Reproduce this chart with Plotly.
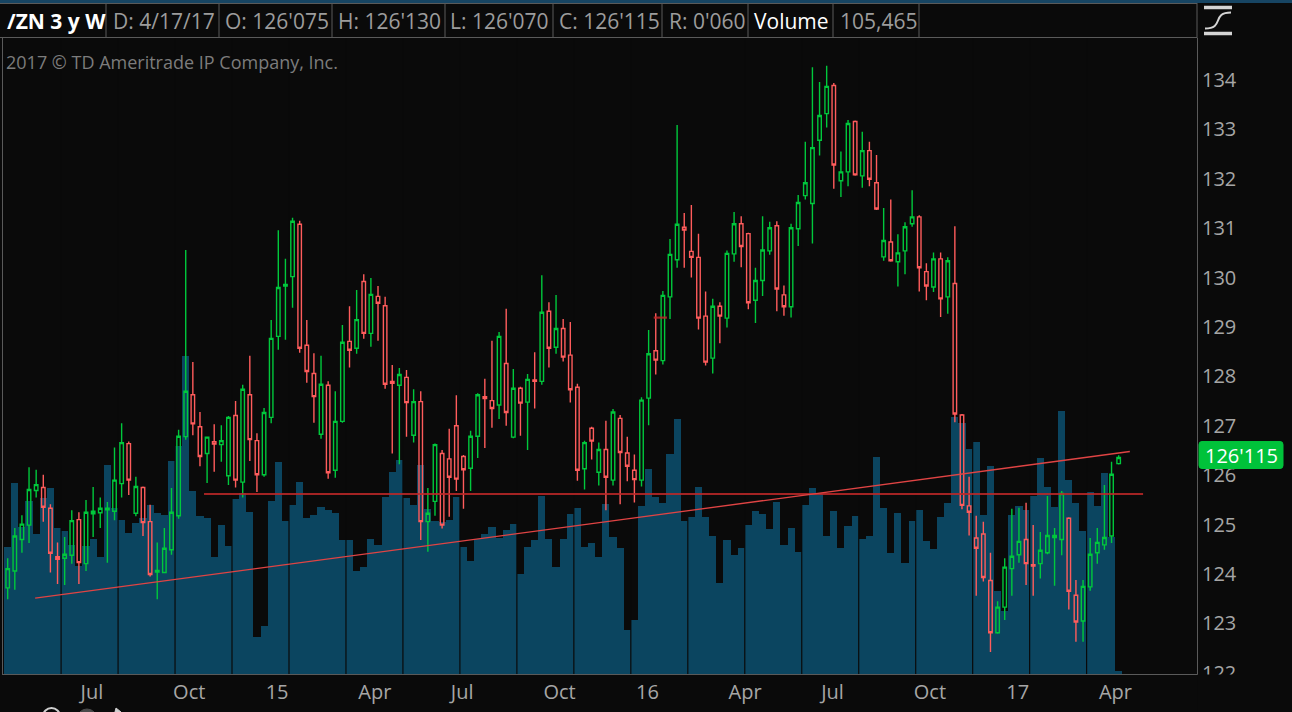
import pandas as pd
import plotly.graph_objects as go

# /ZN weekly bars, 3 years, from 2014-04-21 to 2017-04-17
start_week = "2014-04-21"

open_px = [
    123.72, 124.06, 124.70, 124.99, 125.69, 125.75, 125.33, 124.35, 124.32, 124.38,
    125.10, 124.21, 125.22, 125.24, 125.30, 125.27, 125.83, 126.64, 125.23, 125.75,
    125.06, 124.04, 124.03, 124.49, 125.18, 126.78, 127.63, 126.98, 126.44, 126.68,
    126.62, 125.99, 127.21, 125.86, 127.63, 126.70, 126.01, 127.17, 128.81, 129.83,
    130.02, 131.08, 128.63, 128.06, 126.83, 127.82, 126.10, 127.09, 128.71, 128.57,
    129.92, 128.87, 129.62, 129.43, 127.90, 127.82, 127.98, 126.81, 127.49, 125.06,
    125.47, 126.44, 126.33, 127.00, 126.38, 126.14, 126.79, 127.59, 127.51, 127.42,
    128.26, 126.77, 127.76, 127.48, 127.93, 127.90, 129.32, 128.59, 128.97, 128.43,
    127.78, 126.13, 126.95, 126.06, 126.52, 125.90, 127.15, 126.45, 126.10, 125.90,
    127.56, 128.52, 128.32, 129.61, 130.36, 131.02, 130.53, 130.41, 129.22, 128.37,
    129.42, 129.18, 130.48, 131.09, 130.89, 129.54, 129.94, 130.54, 131.05, 129.65,
    129.41, 130.99, 131.66, 131.50, 132.78, 133.32, 133.89, 131.96, 132.14, 133.16,
    132.06, 132.57, 131.92, 130.42, 130.72, 130.32, 130.54, 131.09, 131.23, 130.12,
    129.81, 130.38, 129.61, 129.88, 127.22, 125.38, 124.73, 124.81, 123.87, 122.81,
    123.33, 124.11, 124.39, 124.70, 124.19, 124.21, 124.43, 124.74, 124.70, 125.13,
    123.57, 123.05, 123.74, 124.43, 124.59, 124.77, 126.234,
]
high_px = [
    124.32, 124.93, 125.19, 126.16, 126.11, 126.01, 125.41, 124.64, 124.75, 125.29,
    125.25, 125.50, 125.76, 125.55, 125.46, 126.56, 127.05, 126.68, 125.97, 125.77,
    125.40, 124.64, 124.93, 125.74, 126.92, 130.56, 128.29, 127.28, 126.77, 127.03,
    127.01, 127.20, 127.50, 127.83, 128.42, 126.85, 127.36, 129.14, 130.96, 130.38,
    131.21, 131.15, 129.14, 128.47, 128.42, 127.90, 127.70, 129.04, 129.42, 129.75,
    130.07, 129.99, 129.83, 129.61, 128.23, 128.17, 128.13, 127.74, 127.70, 125.74,
    126.64, 126.51, 126.94, 127.62, 126.41, 126.90, 127.66, 127.95, 128.72, 128.90,
    129.37, 128.15, 127.79, 128.05, 128.49, 130.05, 129.50, 129.65, 129.16, 129.10,
    127.85, 126.70, 126.98, 126.66, 127.10, 127.34, 127.22, 126.78, 126.42, 127.58,
    128.94, 129.28, 129.73, 130.78, 133.09, 131.31, 131.47, 130.89, 129.72, 129.57,
    129.50, 130.55, 131.33, 131.24, 130.91, 130.20, 131.24, 131.13, 131.14, 129.84,
    131.09, 131.67, 132.75, 134.26, 133.96, 134.29, 133.94, 132.55, 133.19, 133.18,
    132.95, 132.75, 132.48, 131.41, 131.58, 130.88, 131.12, 131.77, 131.26, 130.29,
    130.51, 130.51, 130.41, 131.04, 127.24, 125.97, 125.18, 125.06, 124.43, 123.45,
    124.32, 125.32, 125.34, 125.44, 124.99, 124.85, 125.58, 124.93, 125.68, 125.15,
    123.88, 123.88, 124.73, 124.93, 125.80, 126.27, 126.406,
]
low_px = [
    123.49, 123.68, 124.43, 124.63, 125.55, 125.06, 124.03, 123.80, 123.78, 124.21,
    123.80, 124.06, 124.75, 124.93, 124.23, 125.09, 125.55, 125.60, 125.17, 124.77,
    123.95, 123.49, 124.02, 124.39, 125.12, 126.72, 126.81, 126.18, 125.84, 126.07,
    126.27, 125.80, 125.75, 125.55, 126.29, 125.66, 125.97, 127.05, 128.54, 128.74,
    129.39, 128.48, 127.87, 127.06, 126.74, 125.93, 125.95, 127.06, 128.18, 128.46,
    128.76, 128.60, 128.72, 127.75, 126.44, 126.22, 126.78, 126.66, 124.69, 124.45,
    125.18, 124.92, 125.16, 125.68, 125.32, 125.68, 126.35, 126.55, 126.96, 127.14,
    127.00, 126.75, 126.80, 126.51, 127.35, 127.83, 128.18, 128.46, 128.30, 127.47,
    125.89, 125.71, 126.32, 125.79, 125.29, 125.79, 125.41, 125.88, 125.45, 125.77,
    127.01, 128.04, 128.24, 129.16, 130.20, 130.20, 130.00, 128.95, 128.22, 128.06,
    128.67, 128.99, 130.32, 130.21, 129.36, 129.08, 129.63, 130.46, 129.32, 129.23,
    129.19, 130.64, 131.58, 130.69, 132.47, 133.04, 131.80, 131.63, 131.85, 132.06,
    131.82, 131.85, 131.37, 130.34, 130.32, 129.82, 130.07, 131.03, 129.72, 129.54,
    129.71, 129.20, 129.27, 127.07, 125.31, 124.78, 123.56, 123.85, 122.42, 122.79,
    123.07, 123.56, 124.23, 123.78, 123.56, 123.91, 124.40, 123.76, 124.38, 123.28,
    122.63, 122.63, 123.66, 124.21, 124.49, 124.63, 126.219,
]
close_px = [
    124.11, 124.77, 125.01, 125.71, 125.81, 125.35, 124.42, 124.30, 124.40, 125.08,
    124.23, 125.25, 125.27, 125.33, 125.33, 125.90, 126.66, 125.90, 125.77, 125.04,
    123.99, 124.07, 124.52, 125.25, 126.79, 127.70, 127.04, 126.38, 126.77, 126.63,
    126.70, 127.17, 125.90, 127.74, 126.72, 126.01, 127.27, 128.77, 129.80, 129.86,
    131.14, 128.57, 128.10, 127.59, 127.84, 126.05, 127.09, 128.69, 128.53, 129.15,
    128.87, 129.66, 129.48, 127.84, 127.86, 128.04, 127.47, 127.49, 125.06, 125.23,
    126.62, 124.99, 125.96, 125.92, 126.11, 126.79, 127.63, 127.55, 127.35, 128.81,
    127.27, 127.76, 127.46, 127.94, 127.90, 129.30, 128.57, 128.97, 128.39, 127.73,
    126.10, 126.66, 126.69, 126.52, 125.96, 127.28, 126.46, 126.18, 125.91, 127.52,
    128.46, 128.33, 129.64, 130.47, 131.08, 130.96, 130.41, 129.18, 128.29, 129.42,
    129.22, 130.49, 131.09, 130.63, 129.49, 129.94, 130.56, 131.01, 129.77, 129.41,
    131.01, 131.52, 131.92, 132.63, 133.28, 133.87, 132.28, 132.14, 133.12, 132.08,
    132.57, 131.99, 131.39, 130.75, 130.34, 130.50, 131.03, 131.23, 130.20, 129.83,
    130.38, 129.57, 130.34, 127.24, 125.39, 125.25, 124.52, 123.93, 122.81, 123.33,
    124.14, 124.36, 124.66, 124.21, 124.16, 124.48, 124.78, 124.78, 125.63, 123.65,
    123.03, 123.75, 124.40, 124.64, 124.74, 126.02, 126.359,
]
# weekly volume, thousands of contracts
volume_k = [
    5070, 7640, 5880, 6920, 5600, 7030, 7440, 5840, 5720, 5150,
    4320, 5110, 5390, 4680, 8360, 6640, 6150, 5640, 6030, 6230,
    6760, 6440, 6360, 8520, 9110, 12720, 7320, 6310, 6230, 4680,
    5960, 5110, 6990, 7230, 6480, 1470, 1920, 6920, 8480, 6110,
    6760, 7680, 6230, 6360, 6680, 6560, 6440, 5350, 5350, 4110,
    4270, 5390, 5150, 7070, 8070, 8560, 7030, 6760, 8360, 6600,
    6110, 6080, 6150, 7070, 5070, 4520, 5390, 5600, 5880, 5440,
    5760, 6000, 4000, 5070, 5350, 7140, 5390, 4270, 5390, 6400,
    6640, 5080, 5240, 4690, 6810, 5490, 5040, 1760, 2160, 6720,
    8200, 7090, 6850, 8800, 10210, 6120, 6290, 7490, 6290, 5520,
    3640, 5360, 4780, 5040, 5980, 6540, 6410, 5800, 6900, 5170,
    5850, 4890, 6770, 7450, 7200, 5540, 6540, 5040, 5930, 6330,
    5410, 5540, 8700, 6660, 4860, 6460, 4440, 6140, 6560, 5330,
    5010, 6300, 6850, 10300, 10050, 9020, 9290, 6380, 8340, 3340,
    2540, 6380, 6720, 6560, 7120, 8640, 7480, 6680, 10520, 7760,
    6840, 5720, 7280, 6720, 8040, 5480, 105.465,
]

tick_dates = ["2014-07-07", "2014-10-06", "2015-01-05", "2015-04-06", "2015-07-06", "2015-10-05",
              "2016-01-04", "2016-04-04", "2016-07-04", "2016-10-03", "2017-01-02", "2017-04-03"]
tick_text = ["Jul", "Oct", "15", "Apr", "Jul", "Oct", "16", "Apr", "Jul", "Oct", "17", "Apr"]
price_ticks = list(range(122, 135))

# drawings on the chart
trend_x = ["2014-05-18", "2017-04-28"]
trend_y = [123.51, 126.48]
level_x = ["2014-10-31", "2017-05-11"]
level_y = [125.62, 125.62]
mark_x = ["2016-01-16", "2016-01-29"]
mark_y = [129.19, 129.19]

header = [("/ZN 3 y W", 5), ("D: 4/17/17", 111), ("O: 126'075", 223), ("H: 126'130", 336),
          ("L: 126'070", 448), ("C: 126'115", 557), ("R: 0'060", 667), ("Volume", 752), ("105,465", 838)]
header_seps = [106, 219, 332, 445, 553, 662, 748, 833, 919]
last_label = "126'115"

BG = "#0a0a0a"
GREEN = "#00c83c"
RED = "#ff5c5c"
VOL = "#0b4560"
FRAME = "#5a5a5a"
TXT = "#a6a6a6"

W, H = 1292, 712
ML, MR, MT, MB = 3, 95, 38, 38
PW, PH = W - ML - MR, H - MT - MB


def px(x):
    return (x - ML) / PW


def py(y):
    return (H - MB - y) / PH


weeks = pd.date_range(start_week, periods=len(close_px), freq="7D")
vol_top = PH * 40  # 40k contracts per pixel
price_lo, price_hi = 121.976, 134.85

fig = go.Figure()

fig.add_trace(go.Bar(
    x=weeks, y=volume_k, marker=dict(color=VOL, line=dict(width=0)),
    yaxis="y", hoverinfo="skip",
))

# dark separators every 8 bars, visible over the volume columns
gx, gy = [], []
k = 7.5
while k < len(weeks):
    t = weeks[0] + pd.Timedelta(days=7 * k)
    gx += [t, t, None]
    gy += [0, vol_top, None]
    k += 8
fig.add_trace(go.Scatter(x=gx, y=gy, mode="lines", line=dict(color=BG, width=1.2),
                         yaxis="y", hoverinfo="skip"))

fig.add_trace(go.Candlestick(
    x=weeks, open=open_px, high=high_px, low=low_px, close=close_px,
    increasing=dict(line=dict(color=GREEN, width=1.4), fillcolor="rgba(0,0,0,0)"),
    decreasing=dict(line=dict(color=RED, width=1.4), fillcolor="rgba(0,0,0,0)"),
    whiskerwidth=0, yaxis="y2",
))

fig.add_trace(go.Scatter(x=level_x, y=level_y, mode="lines", yaxis="y2",
                         line=dict(color="rgba(190,40,40,0.85)", width=2.2)))
fig.add_trace(go.Scatter(x=mark_x, y=mark_y, mode="lines", yaxis="y2",
                         line=dict(color="rgba(190,40,40,0.85)", width=2.2)))
fig.add_trace(go.Scatter(x=trend_x, y=trend_y, mode="lines", yaxis="y2",
                         line=dict(color="#e04444", width=1.3)))


def pline(x0, y0, x1, y1, color=FRAME, width=1, layer="above"):
    return dict(type="line", xref="paper", yref="paper", x0=px(x0), y0=py(y0),
                x1=px(x1), y1=py(y1), line=dict(color=color, width=width), layer=layer)


def ppath(points, cmds):
    parts = []
    it = iter(points)
    for c in cmds:
        if c == "Z":
            parts.append("Z")
            continue
        n = 2 if c == "Q" else 1
        coords = []
        for _ in range(n):
            x, y = next(it)
            coords.append(f"{px(x):.5f},{py(y):.5f}")
        parts.append(c + " " + " ".join(coords))
    return " ".join(parts)


shapes = []
shapes.append(dict(type="rect", xref="paper", yref="paper", x0=px(0), x1=px(W), y0=py(0), y1=py(3),
                   fillcolor="#174563", line=dict(width=0), layer="above"))
shapes.append(pline(0, 3.5, 1197, 3.5))
shapes.append(pline(0, 37.5, 1197, 37.5))
shapes.append(pline(1197, 3, 1197, 38))
for sx in header_seps:
    shapes.append(pline(sx, 3.5, sx, 37.5))
# clip the lowest price label like the platform does
shapes.append(dict(type="rect", xref="paper", yref="paper", x0=px(1197.6), x1=px(W), y0=py(674.6), y1=py(H),
                   fillcolor=BG, line=dict(width=0), layer="above"))
# study icon
shapes.append(pline(1204, 7.5, 1232, 7.5, "#d4d4d4", 3.5))
shapes.append(pline(1204, 33.5, 1232, 33.5, "#d4d4d4", 3.5))
shapes.append(dict(type="path", xref="paper", yref="paper", layer="above",
                   path=f"M {px(1205):.5f},{py(28.5):.5f} C {px(1225):.5f},{py(28.5):.5f} "
                        f"{px(1211):.5f},{py(12.5):.5f} {px(1231):.5f},{py(12.5):.5f}",
                   line=dict(color="#d4d4d4", width=2)))
# toolbar buttons cut off at the bottom edge
shapes.append(dict(type="circle", xref="paper", yref="paper", x0=px(43), x1=px(60), y0=py(708), y1=py(725),
                   line=dict(color="#cfcfcf", width=2), layer="above"))
shapes.append(dict(type="circle", xref="paper", yref="paper", x0=px(77), x1=px(97), y0=py(709), y1=py(729),
                   fillcolor="#4a4a4a", line=dict(color="#4a4a4a", width=1), layer="above"))
shapes.append(dict(type="path", xref="paper", yref="paper", layer="above",
                   path=ppath([(115, 712), (116, 708), (121, 712)], ["M", "L", "L", "Z"]),
                   fillcolor="#cfcfcf", line=dict(color="#cfcfcf", width=1)))
# last price badge
bx0, bx1, by0, by1, r = 1199, 1283, 441.5, 468.5, 3
badge = ppath(
    [(bx0 + r, by0), (bx1 - r, by0), (bx1, by0), (bx1, by0 + r), (bx1, by1 - r), (bx1, by1), (bx1 - r, by1),
     (bx0 + r, by1), (bx0, by1), (bx0, by1 - r), (bx0, by0 + r), (bx0, by0), (bx0 + r, by0)],
    ["M", "L", "Q", "L", "Q", "L", "Q", "L", "Q", "Z"])
shapes.append(dict(type="path", xref="paper", yref="paper", path=badge, fillcolor="#00c23a",
                   line=dict(color="#00c23a", width=1), layer="above"))

annotations = []
for i, (txt, hx) in enumerate(header):
    white = i == 0 or txt == "Volume"
    label = f"<b>{txt}</b>" if i == 0 else txt
    annotations.append(dict(xref="paper", yref="paper", x=px(hx), y=py(21), xanchor="left", yanchor="middle",
                            text=label, showarrow=False,
                            font=dict(family="Open Sans", size=21, color="#ffffff" if white else "#9c9c9c")))
annotations.append(dict(xref="paper", yref="paper", x=px(4), y=py(61.5), xanchor="left", yanchor="middle",
                        text="2017 © TD Ameritrade IP Company, Inc.", showarrow=False,
                        font=dict(family="Open Sans", size=18, color="#7c7c7c")))
annotations.append(dict(xref="paper", yref="paper", x=px((bx0 + bx1) / 2), y=py((by0 + by1) / 2),
                        xanchor="center", yanchor="middle", text=last_label, showarrow=False, borderpad=0,
                        font=dict(family="Open Sans", size=20, color="#ffffff")))

fig.update_layout(
    width=W, height=H,
    margin=dict(l=ML, r=MR, t=MT, b=MB),
    paper_bgcolor=BG, plot_bgcolor=BG,
    showlegend=False, bargap=0, boxgap=0.3,
    font=dict(family="Open Sans", color=TXT),
    shapes=shapes, annotations=annotations,
    xaxis=dict(
        type="date",
        range=[weeks[0] - pd.Timedelta(days=4.6), weeks[-1] + pd.Timedelta(days=77)],
        rangeslider=dict(visible=False),
        showgrid=False, zeroline=False, showline=True, linecolor=FRAME, linewidth=1,
        tickvals=tick_dates, ticktext=tick_text, ticks="",
        ticklabelposition="outside right", ticklabelshift=-6,
        tickfont=dict(family="Open Sans", size=20, color=TXT),
    ),
    yaxis=dict(
        range=[0, vol_top], showticklabels=False, showgrid=False, zeroline=False,
        showline=True, linecolor=FRAME, ticks="",
    ),
    yaxis2=dict(
        overlaying="y", side="right", range=[price_lo, price_hi],
        tickvals=price_ticks, ticks="", showgrid=False, zeroline=False,
        showline=True, linecolor=FRAME,
        tickfont=dict(family="Open Sans", size=20, color=TXT),
    ),
)

# the page's default body margin would push the chart 8px down and right
fig.write_html("out.html", config={"displayModeBar": False},
               post_script="document.body.style.margin='0';")
